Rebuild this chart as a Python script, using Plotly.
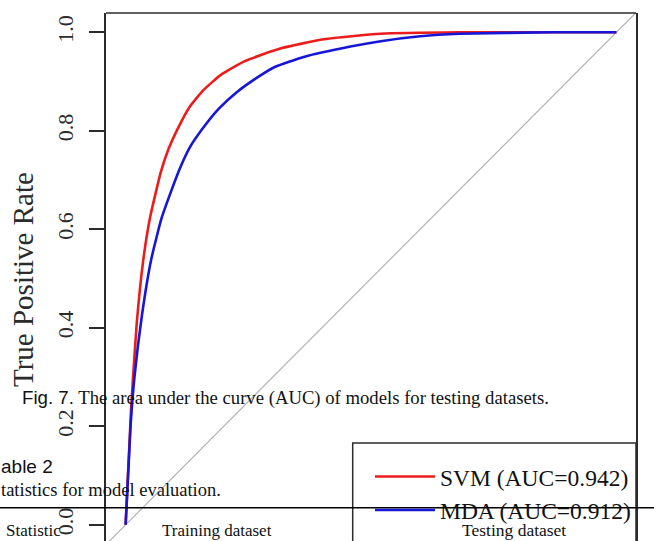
import plotly.graph_objects as go

# ROC curve data
svm_fpr = [0, 0.011, 0.0145, 0.0227, 0.036, 0.050, 0.072, 0.087, 0.105, 0.130, 0.159, 0.196, 0.244, 0.315, 0.404, 0.52, 0.68, 1.0]
svm_tpr = [0, 0.233, 0.290, 0.410, 0.538, 0.625, 0.717, 0.762, 0.802, 0.848, 0.883, 0.915, 0.942, 0.967, 0.986, 0.997, 1.0, 1.0]

mda_fpr = [0, 0.010, 0.018, 0.0329, 0.052, 0.074, 0.109, 0.130, 0.155, 0.190, 0.227, 0.271, 0.305, 0.363, 0.458, 0.52, 0.60, 0.68, 0.87, 1.0]
mda_tpr = [0, 0.200, 0.300, 0.423, 0.538, 0.625, 0.720, 0.765, 0.802, 0.845, 0.879, 0.910, 0.930, 0.950, 0.971, 0.982, 0.992, 0.997, 1.0, 1.0]

diag = [-0.1, 1.1]

series_names = ["SVM (AUC=0.942)", "MDA (AUC=0.912)"]
ytick_vals = [0.0, 0.2, 0.4, 0.6, 0.8, 1.0]
ytick_text = ["0.0", "0.2", "0.4", "0.6", "0.8", "1.0"]
y_title = "True Positive Rate"

SERIF = "Liberation Serif, Times New Roman, serif"
SANS = "Liberation Sans, Arial, sans-serif"
INK = "#2b2b2b"

fig = go.Figure()
fig.add_trace(go.Scatter(x=diag, y=diag, mode="lines",
                         line=dict(color="#b4b4b4", width=1.2),
                         showlegend=False, hoverinfo="skip"))
fig.add_trace(go.Scatter(x=svm_fpr, y=svm_tpr, mode="lines", name=series_names[0],
                         line=dict(color="#ec1c1c", width=2.6, shape="spline", smoothing=0.5)))
fig.add_trace(go.Scatter(x=mda_fpr, y=mda_tpr, mode="lines", name=series_names[1],
                         line=dict(color="#1616d8", width=2.6, shape="spline", smoothing=0.5)))

W, H = 654, 541
L, R, T, B = 106, 18, 13, 0
pw, ph = W - L - R, H - T - B

def px(xp):
    return (xp - L) / pw

def py(yp):
    return (H - B - yp) / ph

fig.update_layout(
    width=W, height=H,
    margin=dict(l=L, r=R, t=T, b=B, pad=0),
    paper_bgcolor="white", plot_bgcolor="white",
    showlegend=True,
    legend=dict(x=1, xanchor="right", y=py(443), yanchor="top",
                bgcolor="rgba(0,0,0,0)", borderwidth=0,
                font=dict(family=SERIF, size=23.5, color="#111"),
                itemwidth=60, tracegroupgap=0,
                title=dict(text=" ", font=dict(size=9))),
    xaxis=dict(range=[-0.04, 1.04], showgrid=False, zeroline=False,
               showticklabels=False, ticks="", showline=False, fixedrange=True),
    yaxis=dict(range=[-0.0329, 1.0392], showgrid=False, zeroline=False,
               tickvals=ytick_vals, ticktext=ytick_text, tickangle=-90,
               ticks="outside", ticklen=15, tickwidth=1.5, tickcolor=INK,
               ticklabelstandoff=7,
               tickfont=dict(family=SERIF, size=22, color=INK),
               showline=True, mirror=True, linecolor=INK, linewidth=1.5,
               fixedrange=True),
)

# top edge of the plot frame
fig.add_shape(type="line", xref="paper", yref="paper", x0=0, x1=1, y0=1, y1=1,
              line=dict(color=INK, width=1.5))
# legend frame
fig.add_shape(type="rect", xref="paper", yref="paper", x0=px(352.7), x1=1, y0=-0.05, y1=py(443),
              line=dict(color=INK, width=1.5), fillcolor="rgba(0,0,0,0)")
# table rule across the page
fig.add_shape(type="line", xref="paper", yref="paper", x0=px(0), x1=px(W), y0=py(507.7), y1=py(507.7),
              line=dict(color="black", width=1.5))

# y-axis title
fig.add_annotation(text=y_title, xref="paper", yref="paper", x=px(23), y=py(280),
                   xanchor="center", yanchor="middle", textangle=-90, showarrow=False,
                   font=dict(family=SERIF, size=29, color=INK))

ann = [
    dict(text='<span style="font-family:Liberation Sans">Fig. 7.</span> The area under the curve (AUC) of models for testing datasets.',
         x=px(20), y=py(398), xanchor="left", font=dict(family=SERIF, size=18.7, color="#111")),
    dict(text="able 2", x=px(-1), y=py(466), xanchor="left", font=dict(family=SANS, size=19, color="#111")),
    dict(text="tatistics for model evaluation.", x=px(-1), y=py(490), xanchor="left",
         font=dict(family=SERIF, size=18.5, color="#111")),
    dict(text="Statistic", x=px(4), y=py(530), xanchor="left", font=dict(family=SERIF, size=17, color="#111")),
    dict(text="Training dataset", x=px(217), y=py(530), xanchor="center", font=dict(family=SERIF, size=17, color="#111")),
    dict(text="Testing dataset", x=px(514), y=py(530), xanchor="center", font=dict(family=SERIF, size=17.5, color="#111")),
]
for a in ann:
    fig.add_annotation(xref="paper", yref="paper", yanchor="middle", align="left", showarrow=False, **a)

fig.write_html("out.html", config={"displayModeBar": False},
               post_script="document.body.style.margin='0';")
